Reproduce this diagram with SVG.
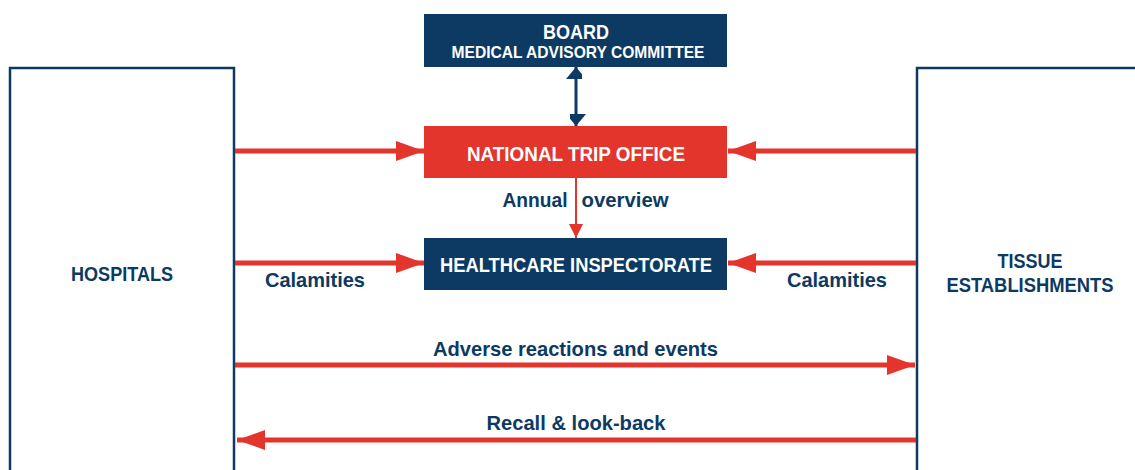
<svg xmlns="http://www.w3.org/2000/svg" width="1135" height="470" viewBox="0 0 1135 470">
<style>
.t{font-family:"Liberation Sans",Arial,sans-serif;font-weight:bold;font-size:21px;fill:#0C3A62;text-anchor:middle}
.w{fill:#FFFFFF}
.red{stroke:#E4352C;stroke-width:5;fill:none}
.frame{fill:#FFFFFF;stroke:#0C3A62;stroke-width:2.5}
</style>
<defs>
<marker id="ah" markerUnits="userSpaceOnUse" markerWidth="30" markerHeight="22" refX="28" refY="11" orient="auto">
<path d="M0,1 L28,11 L0,21 Z" fill="#E4352C"/>
</marker>
<marker id="ahs" markerUnits="userSpaceOnUse" markerWidth="16" markerHeight="16" refX="14" refY="7" orient="auto">
<path d="M0,0 L14,7 L0,14 Z" fill="#E4352C"/>
</marker>
<marker id="bh" markerUnits="userSpaceOnUse" markerWidth="22" markerHeight="16" refX="12" refY="10" orient="auto-start-reverse">
<path d="M0,0 L12,10 L0,20 Z" fill="#0C3A62"/>
</marker>
</defs>
<g id="hospitals">
<rect class="frame" x="10" y="68" width="224" height="420"/>
<text class="t" x="122" y="281" textLength="102" lengthAdjust="spacingAndGlyphs">HOSPITALS</text>
</g>
<g id="tissue">
<rect class="frame" x="917" y="68" width="240" height="420"/>
<text class="t" x="1030" y="268" textLength="65" lengthAdjust="spacingAndGlyphs">TISSUE</text>
<text class="t" x="1030" y="292" textLength="167" lengthAdjust="spacingAndGlyphs">ESTABLISHMENTS</text>
</g>
<g id="board">
<rect x="424" y="14" width="303" height="53" fill="#0C3A62"/>
<text class="t w" x="576" y="39" textLength="66" lengthAdjust="spacingAndGlyphs">BOARD</text>
<text class="t w" x="578" y="58" style="font-size:17px" textLength="253" lengthAdjust="spacingAndGlyphs">MEDICAL ADVISORY COMMITTEE</text>
</g>
<g id="nto">
<rect x="424" y="126" width="303" height="52" fill="#E4352C"/>
<text class="t w" x="576" y="161" textLength="218" lengthAdjust="spacingAndGlyphs">NATIONAL TRIP OFFICE</text>
</g>
<g id="inspectorate">
<rect x="424" y="238" width="303" height="52" fill="#0C3A62"/>
<text class="t w" x="576" y="272" textLength="272" lengthAdjust="spacingAndGlyphs">HEALTHCARE INSPECTORATE</text>
</g>
<g id="connectors">
<line x1="576" y1="67" x2="576" y2="126" stroke="#0C3A62" stroke-width="3" marker-start="url(#bh)" marker-end="url(#bh)"/>
<line x1="576" y1="178" x2="576" y2="238" stroke="#E4352C" stroke-width="2" marker-end="url(#ahs)"/>
<line class="red" x1="235" y1="151" x2="424" y2="151" marker-end="url(#ah)"/>
<line class="red" x1="235" y1="263" x2="424" y2="263" marker-end="url(#ah)"/>
<line class="red" x1="916" y1="151" x2="728" y2="151" marker-end="url(#ah)"/>
<line class="red" x1="916" y1="263" x2="728" y2="263" marker-end="url(#ah)"/>
<line class="red" x1="235" y1="365" x2="915" y2="365" marker-end="url(#ah)"/>
<line class="red" x1="916" y1="440" x2="237" y2="440" marker-end="url(#ah)"/>
<text class="t" x="535" y="207" textLength="65" lengthAdjust="spacingAndGlyphs">Annual</text>
<text class="t" x="625" y="207" textLength="87" lengthAdjust="spacingAndGlyphs">overview</text>
<text class="t" x="315" y="287" textLength="100" lengthAdjust="spacingAndGlyphs">Calamities</text>
<text class="t" x="837" y="287" textLength="100" lengthAdjust="spacingAndGlyphs">Calamities</text>
<text class="t" x="575.5" y="356" textLength="285" lengthAdjust="spacingAndGlyphs">Adverse reactions and events</text>
<text class="t" x="576" y="430" textLength="179" lengthAdjust="spacingAndGlyphs">Recall &amp; look-back</text>
</g>
</svg>
